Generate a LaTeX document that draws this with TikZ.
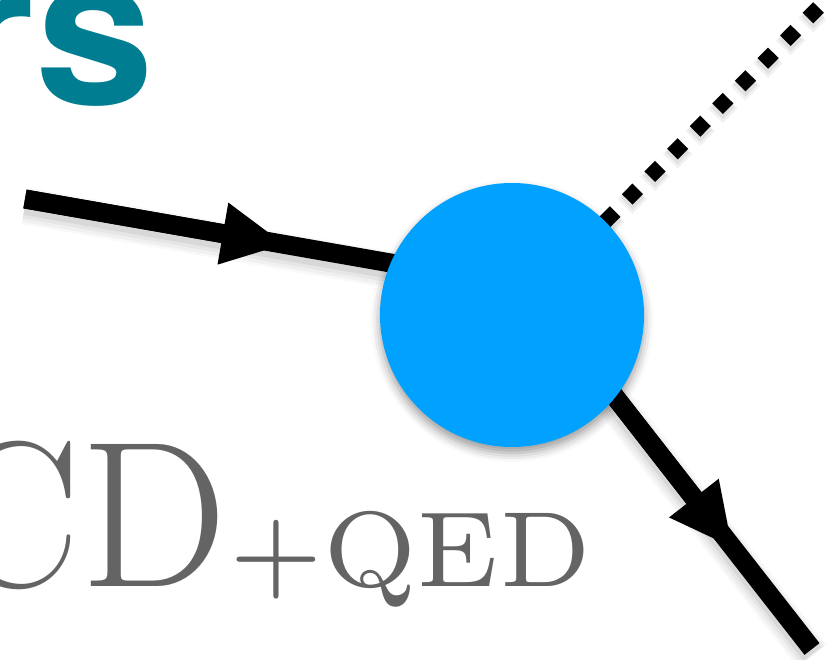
\documentclass[tikz,border=0pt]{standalone}
\usetikzlibrary{arrows.meta,shadows.blur}
\definecolor{vblue}{RGB}{0,161,255}
\definecolor{headteal}{RGB}{0,125,145}
\definecolor{txtgray}{RGB}{100,100,100}
\font\bigrm="[lmroman17-regular.otf]" at 208pt
\font\subrm="[lmroman7-regular.otf]" at 107pt
\font\headsf="[texgyreheros-bold.otf]" at 214pt
\tikzset{
  fermion/.style={line width=19pt, draw=black,
    preaction={draw=black, opacity=0.025, line width=37pt, transform canvas={yshift=-7pt}},
    preaction={draw=black, opacity=0.035, line width=32pt, transform canvas={yshift=-7pt}},
    preaction={draw=black, opacity=0.045, line width=27pt, transform canvas={yshift=-6pt}},
    preaction={draw=black, opacity=0.06, line width=22pt, transform canvas={yshift=-5pt}}},
  arrowpart/.style={line width=19pt, draw=black, -{Triangle[length=62pt,width=63pt,line width=0pt]}},
  scalar/.style={line width=15pt, draw=black, dash pattern=on 15pt off 17pt,
    preaction={draw=black, opacity=0.05, line width=21pt, dash pattern=on 21pt off 11pt, dash phase=3pt, transform canvas={yshift=-5pt}},
    preaction={draw=black, opacity=0.07, line width=17pt, dash pattern=on 17pt off 15pt, dash phase=1pt, transform canvas={yshift=-4pt}}},
  vertex/.style={circle, fill=vblue, minimum size=264pt, inner sep=0pt,
    blur shadow={shadow xshift=0pt, shadow yshift=-6pt, shadow blur radius=9pt, shadow opacity=40}},
  label/.style={anchor=base west, inner sep=0pt}
}
\begin{document}
\begin{tikzpicture}[x=1pt,y=-1pt]
\useasboundingbox (0,0) rectangle (833,660);
% texts
\node[label, text=headteal, font=\headsf] (rs) at (-49,105) {rs};
\node[label, text=txtgray, font=\bigrm] (cd) at (-59,586) {CD};
\node[label, text=txtgray, font=\subrm] (qed) at (229,586) {+QED};
% vertex position
\coordinate (vc) at (512,315);
% incoming fermion
\coordinate (inS) at (25,199);
\coordinate (tipA) at (284,244.3);
\coordinate (inE) at (450,273.4);
\draw[fermion] (inS) -- (inE);
\draw[arrowpart] (inS) -- (tipA);
% outgoing fermion
\coordinate (outS) at (591,366);
\coordinate (tipB) at (732,547);
\coordinate (outE) at (812,649);
\draw[fermion] (outS) -- (outE);
\draw[arrowpart] (outS) -- (tipB);
% scalar (dotted)
\coordinate (sEnd) at (818.5,7.5);
\draw[scalar] (sEnd) -- (vc);
% vertex blob
\node[vertex] (v) at (vc) {};
\end{tikzpicture}
\end{document}
